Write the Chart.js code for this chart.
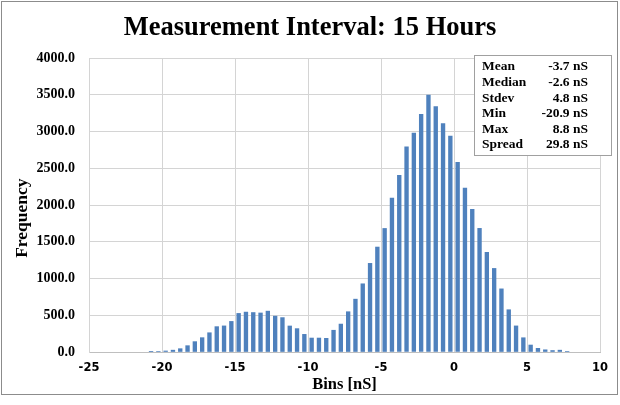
<!DOCTYPE html>
<html><head><meta charset="utf-8">
<script src="https://cdn.jsdelivr.net/npm/chart.js@4.4.0/dist/chart.umd.min.js"></script>
<style>html,body{margin:0;padding:0;background:#fff;overflow:hidden}</style>
</head><body>
<canvas id="c" width="620" height="405"></canvas>
<script>
// ---- data ----
const binCenters = [-20.75,-20.25,-19.75,-19.25,-18.75,-18.25,-17.75,-17.25,-16.75,-16.25,
  -15.75,-15.25,-14.75,-14.25,-13.75,-13.25,-12.75,-12.25,-11.75,-11.25,
  -10.75,-10.25,-9.75,-9.25,-8.75,-8.25,-7.75,-7.25,-6.75,-6.25,
  -5.75,-5.25,-4.75,-4.25,-3.75,-3.25,-2.75,-2.25,-1.75,-1.25,
  -0.75,-0.25,0.25,0.75,1.25,1.75,2.25,2.75,3.25,3.75,
  4.25,4.75,5.25,5.75,6.25,6.75,7.25,7.75];
const frequencies = [3,6,14,25,45,86,141,195,262,345,
  355,416,525,543,537,531,556,488,468,354,
  318,240,190,190,186,296,380,548,719,928,
  1206,1428,1681,2093,2404,2792,2977,3235,3495,3340,
  3107,2936,2580,2230,1941,1682,1356,1137,859,575,
  355,194,95,50,30,20,25,8];
const xTickValues = [-25,-20,-15,-10,-5,0,5,10];
const yTickValues = [0,500,1000,1500,2000,2500,3000,3500,4000];
const titleText = 'Measurement Interval: 15 Hours';
const xTitle = 'Bins [nS]';
const yTitle = 'Frequency';
const statLabels = ['Mean','Median','Stdev','Min','Max','Spread'];
const statValues = ['-3.7 nS','-2.6 nS','4.8 nS','-20.9 nS','8.8 nS','29.8 nS'];

const points = binCenters.map((x,i)=>({x:x, y:frequencies[i]}));
const SERIF = '"Liberation Serif", "Times New Roman", serif';

const statsBox = {
  id:'statsBox',
  afterDraw(chart){
    const ctx = chart.ctx;
    ctx.save();
    ctx.fillStyle = '#ffffff';
    ctx.fillRect(474.5,55.5,137,100);
    ctx.strokeStyle = '#a0a0a0';
    ctx.lineWidth = 1;
    ctx.strokeRect(474.5,55.5,137,100);
    ctx.fillStyle = '#000';
    ctx.font = 'bold 13.5px ' + SERIF;
    ctx.textBaseline = 'middle';
    statLabels.forEach((lab,i)=>{
      const y = 67 + i*15.6;
      ctx.textAlign = 'left';
      ctx.fillText(lab, 482, y);
      ctx.textAlign = 'right';
      ctx.fillText(statValues[i], 588, y);
    });
    ctx.restore();
  }
};
const frame = {
  id:'frame',
  beforeDraw(chart){
    const ctx = chart.ctx;
    ctx.save();
    ctx.fillStyle='#fff';
    ctx.fillRect(0,0,chart.width,chart.height);
    ctx.strokeStyle='#8c8c8c';
    ctx.lineWidth=1;
    ctx.strokeRect(1.5,1.5,616,393);
    ctx.restore();
  }
};

new Chart(document.getElementById('c'), {
  type:'bar',
  data:{ datasets:[{ data: points, backgroundColor:'#4f81bd', borderWidth:0, barThickness:3.7 }] },
  options:{
    responsive:false, animation:false,
    layout:{ padding:{ left:12, right:12, top:2, bottom:0 } },
    plugins:{
      legend:{display:false}, tooltip:{enabled:false},
      title:{ display:true, text:titleText, color:'#000',
        font:{family:SERIF, size:26.5, weight:'bold', lineHeight:1.2},
        padding:{top:10.1, bottom:14.1} }
    },
    scales:{
      x:{ type:'linear', min:-25, max:10, offset:false,
        afterBuildTicks(s){ s.ticks = xTickValues.map(v=>({value:v})); },
        afterFit(s){ s.height = 53; },
        grid:{ offset:false, color:'#d4d4d4', drawTicks:false },
        border:{ color:'#bfbfbf' },
        ticks:{ padding:9, color:'#000', font:{family:'"DejaVu Sans", sans-serif', size:11.5, weight:'bold'},
          maxRotation:0, autoSkip:false, callback:v=>String(v) },
        title:{ display:true, text:xTitle, color:'#000',
          font:{family:SERIF, size:16.5, weight:'bold', lineHeight:1.2}, padding:{top:0,bottom:10} }
      },
      y:{ min:0, max:4000,
        afterBuildTicks(s){ s.ticks = yTickValues.map(v=>({value:v})); },
        afterFit(s){ s.width = 77; },
        grid:{ color:'#d4d4d4', drawTicks:false },
        border:{ color:'#d4d4d4' },
        ticks:{ padding:14, color:'#000', font:{family:SERIF, size:14, weight:'bold'},
          callback:v=>Number(v).toFixed(1) },
        title:{ display:true, text:yTitle + '      ', color:'#000',
          font:{family:SERIF, size:17.5, weight:'bold', lineHeight:1.2}, padding:{top:0,bottom:0} }
      },
      yRight:{ type:'linear', position:'right', axis:'y', min:0, max:4000,
        afterFit(s){ s.width = 8; },
        grid:{ display:false, drawOnChartArea:false }, border:{ display:false },
        ticks:{ display:false } }
    }
  },
  plugins:[frame, statsBox]
});
</script>
</body></html>
